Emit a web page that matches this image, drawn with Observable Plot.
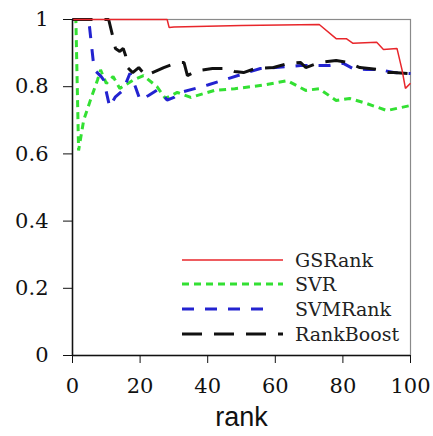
<!DOCTYPE html>
<html>
<head>
<meta charset="utf-8">
<script src="https://cdn.jsdelivr.net/npm/d3@7"></script>
<script src="https://cdn.jsdelivr.net/npm/@observablehq/plot@0.6"></script>
<style>
  html, body { margin: 0; padding: 0; background: #fff; }
</style>
</head>
<body>
<div id="chart"></div>
<script>
// ---- data ----
const seriesNames = ["GSRank", "SVR", "SVMRank", "RankBoost"];

const gsRankX = [0, 1, 28, 28.6, 30, 50, 73, 78, 81, 83, 90, 92, 96, 97.5, 98.5, 100];
const gsRankY = [1, 1, 1, 0.976, 0.978, 0.982, 0.985, 0.943, 0.943, 0.929, 0.932, 0.911, 0.914, 0.85, 0.795, 0.81];

const svrX = [0, 1, 1.8, 3.3, 5.3, 7.4, 8.3, 10, 12, 14, 18, 21, 25, 27.5, 31, 35, 42, 48, 56, 63.5, 69, 73, 78, 82, 87, 93, 100];
const svrY = [1, 1, 0.61, 0.70, 0.76, 0.82, 0.85, 0.81, 0.83, 0.795, 0.82, 0.833, 0.80, 0.765, 0.783, 0.768, 0.789, 0.794, 0.804, 0.818, 0.789, 0.794, 0.759, 0.765, 0.75, 0.729, 0.744];

const svmRankX = [0, 4.8, 6.2, 7, 8.5, 9.2, 11, 12.7, 15, 17, 18.6, 20, 22.5, 25, 26.6, 28, 30, 32, 40, 52, 55.6, 67.5, 71, 76, 80, 83, 87, 91, 95, 100];
const svmRankY = [1, 1, 0.87, 0.845, 0.83, 0.82, 0.74, 0.77, 0.79, 0.84, 0.80, 0.76, 0.774, 0.79, 0.78, 0.76, 0.768, 0.783, 0.805, 0.843, 0.854, 0.863, 0.863, 0.863, 0.87, 0.854, 0.851, 0.851, 0.842, 0.839];

const rankBoostX = [0, 10.7, 12, 12.7, 14, 15, 15.7, 16.3, 17.8, 19.6, 21.6, 27, 31, 33, 34, 37, 41.4, 46, 48, 50.6, 54, 59.5, 63.6, 67.5, 69, 73, 78, 81.6, 85, 90.5, 93.5, 95, 100];
const rankBoostY = [1, 1, 0.946, 0.914, 0.905, 0.914, 0.893, 0.857, 0.842, 0.857, 0.833, 0.857, 0.872, 0.872, 0.833, 0.848, 0.854, 0.854, 0.845, 0.842, 0.854, 0.857, 0.869, 0.872, 0.857, 0.872, 0.878, 0.872, 0.857, 0.851, 0.842, 0.842, 0.839];

const xTicks = [0, 20, 40, 60, 80, 100];
const yTicks = [0, 0.2, 0.4, 0.6, 0.8, 1];
const yTickLabels = ["0", "0.2", "0.4", "0.6", "0.8", "1"];
const xLabel = "rank";

// ---- build table ----
function rows(name, xs, ys) { return xs.map((x, i) => ({series: name, rank: x, value: ys[i]})); }
const styles = {
  GSRank:    {stroke: "#e8262b", width: 1.5, dash: null},
  SVR:       {stroke: "#33e033", width: 3,   dash: "7,5"},
  SVMRank:   {stroke: "#2323d0", width: 3,   dash: "12,11"},
  RankBoost: {stroke: "#111111", width: 3,   dash: "20,12"}
};
const dataBy = {
  GSRank: rows("GSRank", gsRankX, gsRankY),
  SVR: rows("SVR", svrX, svrY),
  SVMRank: rows("SVMRank", svmRankX, svmRankY),
  RankBoost: rows("RankBoost", rankBoostX, rankBoostY)
};
const drawOrder = ["SVR", "SVMRank", "RankBoost", "GSRank"];
const serifFont = "DejaVu Serif";

const lineMarks = drawOrder.map(n => Plot.line(dataBy[n], {
  x: "rank", y: "value",
  stroke: styles[n].stroke, strokeWidth: styles[n].width,
  strokeDasharray: styles[n].dash || undefined,
  strokeLinejoin: "miter", strokeLinecap: "butt"
}));

const chart = Plot.plot({
  width: 433,
  height: 436,
  marginLeft: 72,
  marginRight: 23,
  marginTop: 19,
  marginBottom: 81,
  style: {fontSize: "21px", color: "#111", background: "#fff", fontFamily: serifFont},
  x: {domain: [0, 100]},
  y: {domain: [0, 1]},
  marks: [
    Plot.frame({stroke: "#8a8a8a", strokeWidth: 1.2}),
    ...lineMarks,
    Plot.ruleX([0], {stroke: "#111", strokeWidth: 1.5}),
    Plot.ruleY([0], {stroke: "#111", strokeWidth: 1.5}),
    Plot.axisX({ticks: xTicks, tickSize: 8, tickPadding: 15, label: null, fontSize: 21}),
    Plot.axisY({ticks: yTicks, tickFormat: (d) => yTickLabels[yTicks.indexOf(d)], tickSize: 9, tickPadding: 15, label: null, fontSize: 21}),
    Plot.text([xLabel], {frameAnchor: "bottom", dy: 70, fontSize: 27, fill: "#111", fontFamily: "Liberation Sans"})
  ]
});

const svg = d3.select(chart);

// ---- legend inside the plot ----
const lg = svg.append("g").attr("class", "legend").attr("text-anchor", "start").attr("font-family", serifFont);
const legendRowY = [260, 284, 309, 334];
seriesNames.forEach((n, i) => {
  const y = legendRowY[i];
  const s = styles[n];
  lg.append("line")
    .attr("x1", 182).attr("x2", n === "SVMRank" ? 272 : 283)
    .attr("y1", y).attr("y2", y)
    .attr("stroke", s.stroke).attr("stroke-width", s.width)
    .attr("stroke-dasharray", s.dash);
  lg.append("text")
    .attr("x", 295).attr("y", y).attr("dy", "0.35em")
    .attr("font-size", 19)
    .attr("fill", "#222")
    .text(n);
});

document.getElementById("chart").appendChild(chart);
</script>
</body>
</html>
